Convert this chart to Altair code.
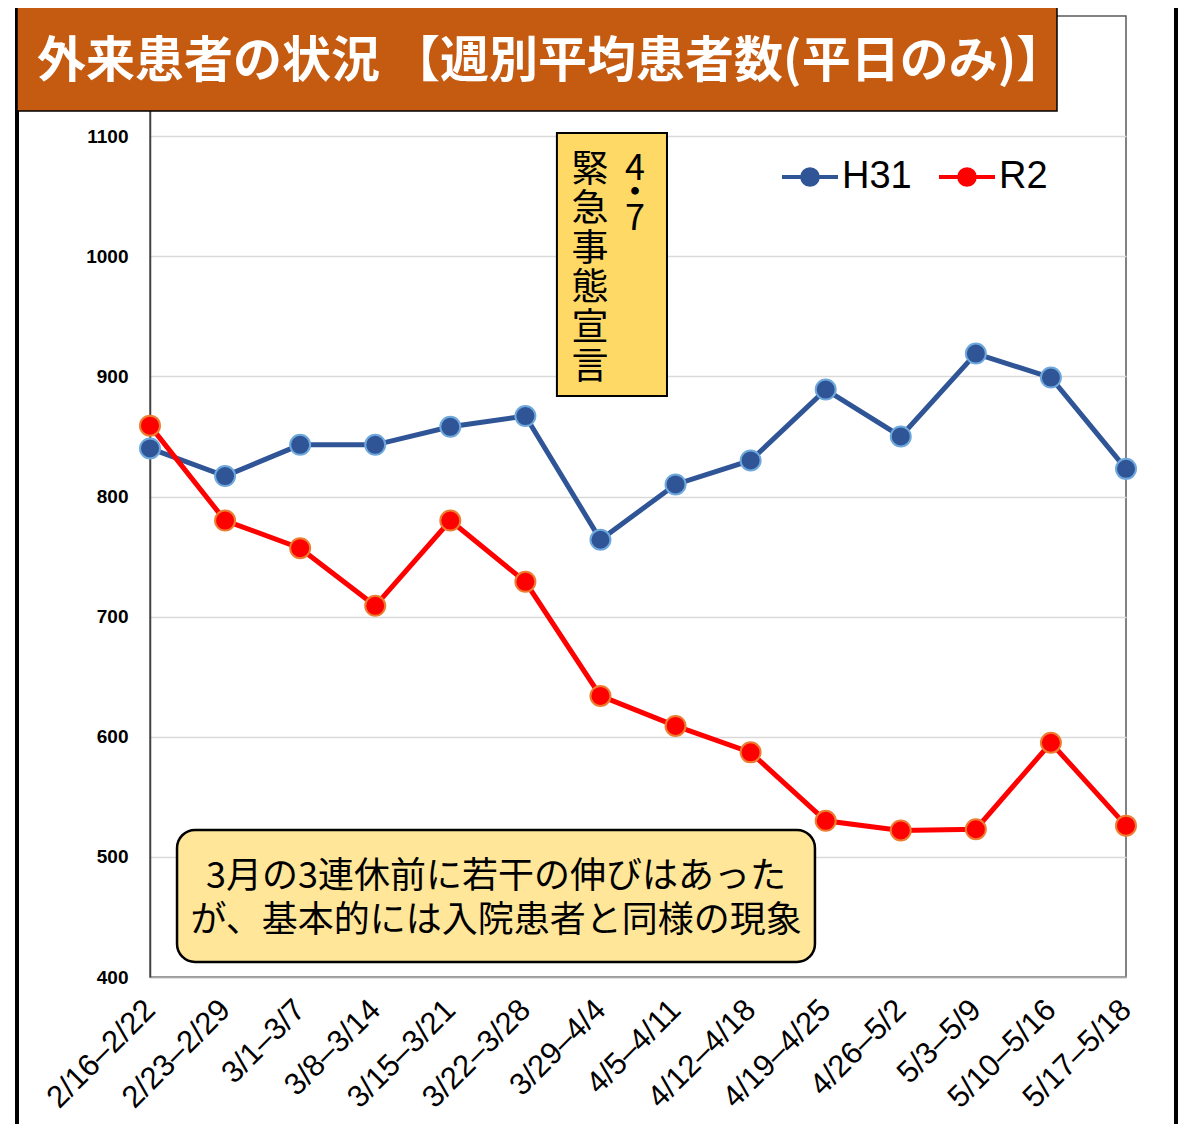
import json
import altair as alt
import pandas as pd

# ---------------- data ----------------
weeks = ["2/16–2/22", "2/23–2/29", "3/1–3/7", "3/8–3/14", "3/15–3/21",
         "3/22–3/28", "3/29–4/4", "4/5–4/11", "4/12–4/18", "4/19–4/25",
         "4/26–5/2", "5/3–5/9", "5/10–5/16", "5/17–5/18"]
h31 = [840, 817, 843, 843, 858, 867, 764, 810, 830, 889, 850, 919, 899, 823]
r2 = [859, 780, 757, 709, 780, 729, 634, 609, 587, 530, 522, 523, 595, 526]
series_names = ["H31", "R2"]
y_ticks = [400, 500, 600, 700, 800, 900, 1000, 1100]

title_text = "外来患者の状況 【週別平均患者数(平日のみ)】"
decl_date = "4・7"
decl_text = "緊急事態宣言"
note_lines = ["3月の3連休前に若干の伸びはあった", "が、基本的には入院患者と同様の現象"]

# ---------------- styles ----------------
line_colors = ["#2F5597", "#FF0000"]
marker_edges = ["#6FA8DC", "#ED7D31"]
JP = "Noto Sans CJK JP"
LAT = "Liberation Sans"

rows = []
for name, vals in zip(series_names, [h31, r2]):
    for i, v in enumerate(vals):
        rows.append({"idx": i, "week": weeks[i], "series": name, "value": v})
df = pd.DataFrame(rows)

W, H = 976, 961
x_scale = alt.Scale(domain=[0, len(weeks) - 1], nice=False, zero=False)
y_scale = alt.Scale(domain=[400, 1200], nice=False, zero=False)
label_expr = json.dumps(weeks, ensure_ascii=False) + "[datum.value]"

x_axis = alt.Axis(values=list(range(len(weeks))), labelExpr=label_expr,
                  labelAngle=-45, labelAlign="right", labelBaseline="middle",
                  labelFont=LAT, labelFontSize=31, labelFontWeight="normal",
                  labelColor="black", labelPadding=28, ticks=False,
                  labelOverlap=False, labelFlush=False, labelLimit=300,
                  domainColor="#A6A6A6", domainWidth=1.5, grid=False, title=None)
y_axis = alt.Axis(values=y_ticks, format="d", labelFont=LAT, labelFontSize=19,
                  labelFontWeight="bold", labelColor="black", labelPadding=22,
                  ticks=False, domainColor="#404040", domainWidth=1.5,
                  gridColor="#D9D9D9", gridWidth=1.5, title=None)


def X(f):
    return alt.X(f, type="quantitative", scale=x_scale, axis=x_axis)


def Y(f):
    return alt.Y(f, type="quantitative", scale=y_scale, axis=y_axis)


legend_path = ("M-1,0L1,0"
               "M0.28,0A0.28,0.28 0 1,1 -0.28,0A0.28,0.28 0 1,1 0.28,0"
               "M0.16,0A0.16,0.16 0 1,1 -0.16,0A0.16,0.16 0 1,1 0.16,0"
               "M0.05,0A0.05,0.05 0 1,1 -0.05,0A0.05,0.05 0 1,1 0.05,0")
legend = alt.Legend(title=None, orient="none", legendX=630, legendY=131,
                    direction="horizontal", symbolType=legend_path,
                    symbolSize=3136, symbolStrokeWidth=4, symbolOpacity=1,
                    labelFont=LAT, labelFontSize=38, labelColor="black",
                    labelOffset=2, columnPadding=19, padding=0)
color = alt.Color("series:N", scale=alt.Scale(domain=series_names, range=line_colors),
                  legend=legend)

lines = alt.Chart(df).mark_line(strokeWidth=5).encode(
    x=X("idx"), y=Y("value"), color=color)
points = alt.Chart(df).mark_circle(size=400, opacity=1, strokeWidth=2).encode(
    x=X("idx"), y=Y("value"), color=color,
    stroke=alt.Stroke("series:N", scale=alt.Scale(domain=series_names, range=marker_edges),
                      legend=None))

# ---------------- annotations ----------------
decl_box = alt.Chart(pd.DataFrame({"x": [5.42], "x2": [6.886], "y": [1102.6], "y2": [883.7]})
                     ).mark_rect(fill="#FFD966", stroke="black", strokeWidth=2).encode(
    x=X("x"), x2="x2", y=Y("y"), y2="y2")
decl_col1 = alt.Chart(pd.DataFrame({"x": [5.86], "y": [1086.0], "t": ["\n".join(decl_text)]})
                      ).mark_text(font=JP, fontSize=37, color="black", align="center",
                                  baseline="top", lineBreak="\n", lineHeight=39.5).encode(
    x=X("x"), y=Y("y"), text="t:N")
decl_col2 = alt.Chart(pd.DataFrame({"x": [6.46], "y": [1087.0], "t": ["\n".join(decl_date)]})
                      ).mark_text(font=JP, fontSize=36, color="black", align="center",
                                  baseline="top", lineBreak="\n", lineHeight=25).encode(
    x=X("x"), y=Y("y"), text="t:N")

note_box = alt.Chart(pd.DataFrame({"x": [0.36], "x2": [8.857], "y": [522.4], "y2": [412.5]})
                     ).mark_rect(fill="#FFE699", stroke="black", strokeWidth=2.5,
                                 cornerRadius=18).encode(
    x=X("x"), x2="x2", y=Y("y"), y2="y2")
note_txt = alt.Chart(pd.DataFrame({"x": [4.61, 4.61], "y": [483.2, 446.6], "t": note_lines})
                     ).mark_text(font=JP, fontSize=36, color="black", align="center",
                                 baseline="middle").encode(
    x=X("x"), y=Y("y"), text="t:N")

one = pd.DataFrame({"t": [title_text]})
outer = alt.Chart(one).mark_rect(fill="white", fillOpacity=0, stroke="black",
                                 strokeWidth=4).encode(
    x=alt.value(-133), x2=alt.value(1026), y=alt.value(-11), y2=alt.value(1200))
title_box = alt.Chart(one).mark_rect(fill="#C55A11", stroke="black", strokeWidth=1.5).encode(
    x=alt.value(-133), x2=alt.value(907), y=alt.value(-11), y2=alt.value(95))
title_txt = alt.Chart(one).mark_text(font=JP, fontSize=49, fontWeight="bold", color="white",
                                     align="left", baseline="middle").encode(
    x=alt.value(-113), y=alt.value(46), text="t:N")

chart = alt.layer(
    outer, decl_box, decl_col1, decl_col2, note_box, note_txt,
    lines, points, title_box, title_txt
).properties(
    width=W, height=H,
    autosize=alt.AutoSizeParams(type="none"),
    padding={"left": 142, "top": 8, "right": 52, "bottom": 147},
    background="white",
).configure_view(stroke="#595959", strokeWidth=1.5)

chart.save("out.html", embed_options={"renderer": "svg", "actions": False})
